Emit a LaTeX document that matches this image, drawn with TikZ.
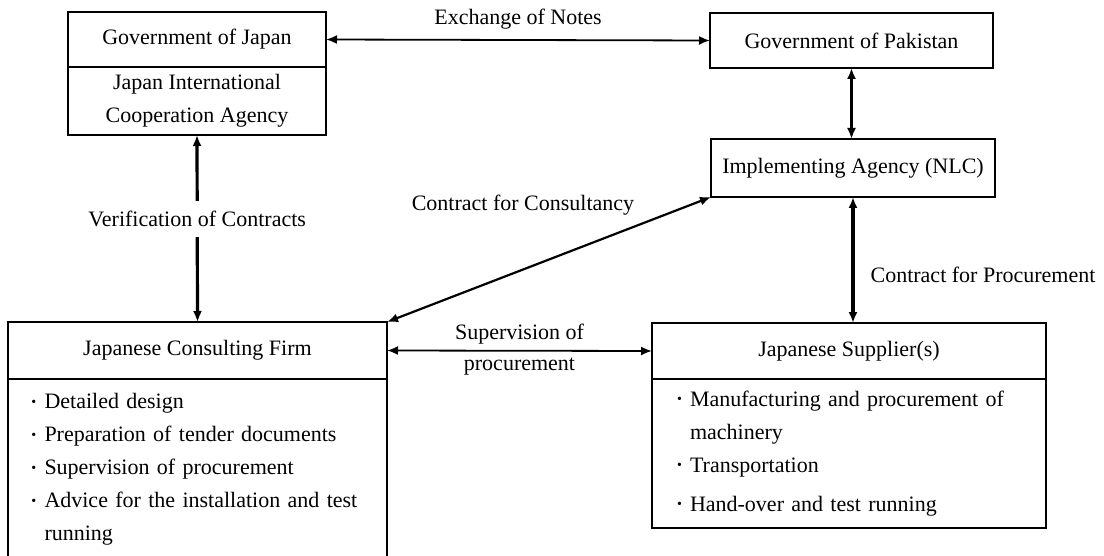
\documentclass[tikz,border=0pt]{standalone}
\usepackage{fontspec}
\setmainfont{Liberation Serif}
\usetikzlibrary{arrows.meta,positioning}

\newcommand{\itm}{\makebox[6.5pt][l]{\raisebox{0.25ex}{\scriptsize\textbullet}}}

\begin{document}
\begin{tikzpicture}[x=0.5pt, y=-0.5pt,
		box/.style={rectangle, draw, line width=0.9pt, inner sep=0pt, outer sep=0pt, font=\fontsize{11}{16.5}\selectfont},
		link/.style={{Latex[length=5.5pt,width=4.5pt]}-{Latex[length=5.5pt,width=4.5pt]}, line width=0.9pt},
		biglink/.style={link, line width=1.6pt},
		lbl/.style={font=\fontsize{11}{13}\selectfont, inner sep=2pt}]
		\useasboundingbox (0,0) rectangle (1104,556);
		% Place nodes
		\node [box, minimum width=129pt, minimum height=27.5pt] (gojapan) at (197,39.5) {Government of Japan};
		\node [box, below=0pt of gojapan, minimum width=129pt, minimum height=34pt, align=center] (jica) {Japan International\\Cooperation Agency};
		\node [box, minimum width=141.5pt, minimum height=27.5pt] (gopak) at (851.5,40.5) {Government of Pakistan};
		\node [box, minimum width=142pt, minimum height=29pt] (nlc) at (853,168) {Implementing Agency (NLC)};
		
		\node [box, minimum width=189.5pt, minimum height=28.5pt] (firm) at (197.5,350.5) {Japanese Consulting Firm};
		\node [box, below=0pt of firm, minimum width=189.5pt, minimum height=90.5pt, text width=166pt, inner xsep=11.75pt, align=left] (firmtasks)
			{\itm Detailed design\\
			 \itm Preparation of tender documents\\
			 \itm Supervision of procurement\\
			 \itm Advice for the installation and test\\
			 \hspace*{6.5pt}running};
		
		\node [box, minimum width=197pt, minimum height=28pt] (sup) at (849,351) {Japanese Supplier(s)};
		\node [box, below=0pt of sup, minimum width=197pt, minimum height=74.5pt, text width=172pt, inner xsep=12.5pt, align=left] (suptasks)
			{\itm Manufacturing and procurement of\\
			 \hspace*{6.5pt}machinery\\
			 \itm Transportation\\[3pt]
			 \itm Hand-over and test running};
		
		% Connectors
		\draw [link] (gojapan.east) -- (gopak.west) node [lbl, midway, above=3pt] (notes) {Exchange of Notes};
		\draw [biglink] (gopak.south) -- (gopak.south |- nlc.north);
		\draw [biglink] (jica.south) -- (firm.north) node [lbl, pos=0.45, fill=white, inner ysep=5pt] (verif) {Verification of Contracts};
		\draw [link, line width=1.1pt] (nlc.south west) -- (firm.north east);
		\node [lbl] (conslbl) at (523,205) {Contract for Consultancy};
		\draw [biglink] (nlc.south) -- (nlc.south |- sup.north) node [lbl, pos=0.62, right=6pt] (proclbl) {Contract for Procurement};
		\draw [link] (firm.east) -- (sup.west)
			node [lbl, midway, above=1pt] (superv) {Supervision of}
			node [lbl, midway, below=1pt] (proc) {procurement};
	\end{tikzpicture}
\end{document}
